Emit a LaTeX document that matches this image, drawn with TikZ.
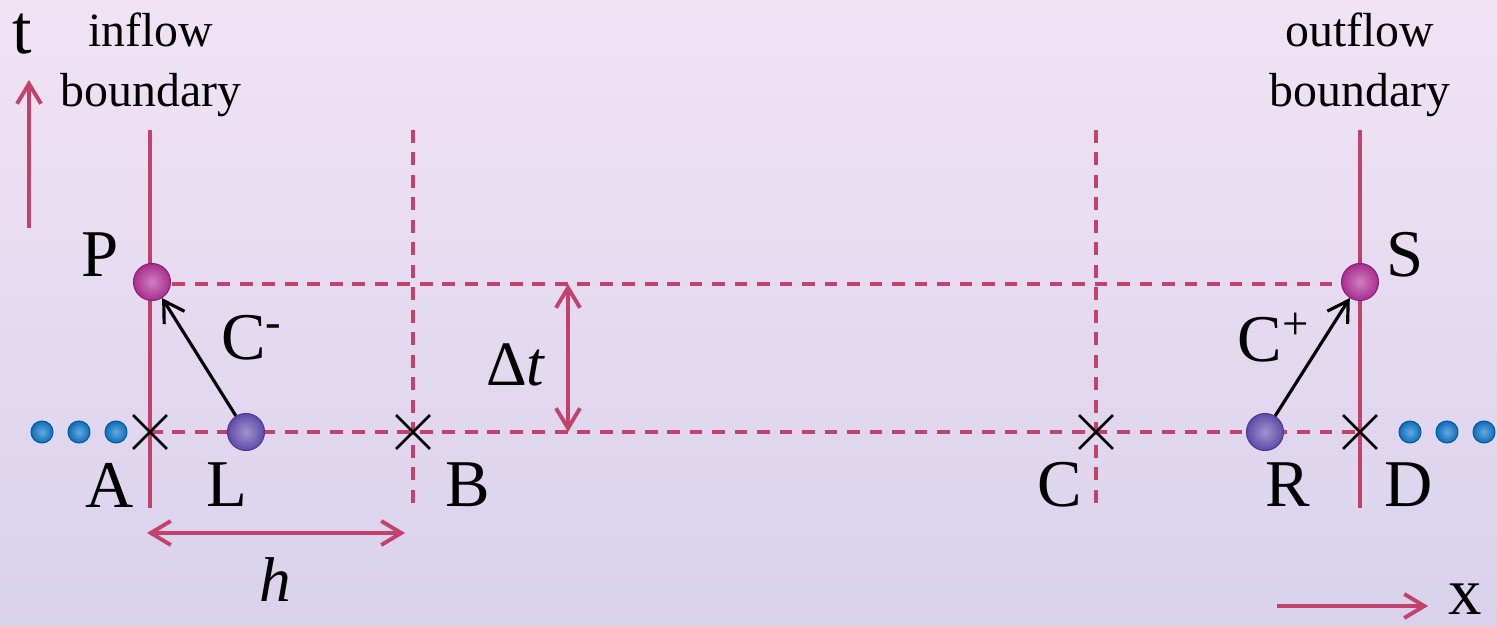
\documentclass[tikz,border=0pt]{standalone}
\usepackage{fontspec}
\setmainfont{Liberation Serif}
\usepackage{xcolor}
\usetikzlibrary{arrows.meta,calc,shapes.misc,positioning}
\definecolor{bgtop}{RGB}{241,227,244}
\definecolor{bgbot}{RGB}{217,210,236}
\definecolor{flowred}{RGB}{195,66,108}
\definecolor{magball}{RGB}{170,45,145}
\definecolor{purball}{RGB}{95,75,170}
\definecolor{bluball}{RGB}{8,110,190}
\newcommand{\lblfont}{\fontsize{19}{22}\selectfont}
\newcommand{\txtfont}{\fontsize{13.6}{17}\selectfont}
\tikzset{
  bdry/.style={flowred,line width=1.1pt},
  gridline/.style={flowred,line width=1.1pt,dash pattern=on 3.6pt off 2.8pt},
  meas/.style={flowred,line width=1.1pt,
    {Straight Barb[length=2mm,width=2.4mm]}-{Straight Barb[length=2mm,width=2.4mm]}},
  axis/.style={flowred,line width=1.1pt,-{Straight Barb[length=2mm,width=2.4mm]}},
  chr/.style={black,line width=0.9pt,-{Straight Barb[length=2mm,width=2.4mm]}},
  xmark/.style={cross out,draw=black,line width=0.8pt,inner sep=0pt,minimum size=3.1mm},
  bigball/.style={circle,inner sep=0pt,minimum size=3.7mm,shade,
    inner color=#1!60!white,outer color=#1,draw=#1!80!black,line width=0.3pt},
  dot/.style={circle,inner sep=0pt,minimum size=2.2mm,shade,
    inner color=bluball!60!white,outer color=bluball,draw=bluball!80!black,line width=0.3pt},
  lbl/.style={inner sep=0pt,font=\lblfont}
}

\begin{document}
\begin{tikzpicture}
\shade[top color=bgtop,bottom color=bgbot] (0,0) rectangle (14.97,6.26);
\useasboundingbox (0,0) rectangle (14.97,6.26);
% ends of the vertical lines
\coordinate (inT) at (1.50,4.96);
\coordinate (inB) at (1.50,1.18);
\coordinate (bT) at (4.13,4.96);
\coordinate (bB) at (4.13,1.18);
\coordinate (cT) at (10.96,4.96);
\coordinate (cB) at (10.96,1.18);
\coordinate (outT) at (13.60,4.96);
\coordinate (outB) at (13.60,1.18);
\coordinate (rowL) at (1.50,3.42);
\coordinate (rowR) at (13.60,3.42);
% grid
\draw[gridline] (bT) -- (bB);
\draw[gridline] (cT) -- (cB);
\draw[gridline] (rowL) -- (rowR);
\draw[gridline] (1.50,1.94) -- (13.60,1.94);
\draw[bdry] (inT) -- (inB);
\draw[bdry] (outT) -- (outB);
% crosses on the old time level
\node[xmark] (A) at (1.50,1.94) {};
\node[xmark] (B) at (4.13,1.94) {};
\node[xmark] (C) at (10.96,1.94) {};
\node[xmark] (D) at (13.60,1.94) {};
% particles
\node[bigball=magball] (P) at (1.52,3.44) {};
\node[bigball=magball] (S) at (13.60,3.44) {};
\node[bigball=purball] (L) at (2.46,1.94) {};
\node[bigball=purball] (R) at (12.65,1.94) {};
\node[dot] (dl1) at (0.42,1.94) {};
\node[dot] (dl2) at (0.79,1.94) {};
\node[dot] (dl3) at (1.16,1.94) {};
\node[dot] (dr1) at (14.10,1.94) {};
\node[dot] (dr2) at (14.47,1.94) {};
\node[dot] (dr3) at (14.84,1.94) {};
% characteristics
\draw[chr] (L) -- (P);
\draw[chr] (R) -- (S);
% step sizes
\coordinate (dtT) at (5.68,3.42);
\coordinate (dtB) at (5.68,1.94);
\draw[meas] (dtT) -- (dtB);
\coordinate (hL) at (1.47,0.93);
\coordinate (hR) at (4.05,0.93);
\draw[meas] (hL) -- (hR);
% axes
\coordinate (t0) at (0.29,3.98);
\coordinate (t1) at (0.29,5.46);
\draw[axis] (t0) -- (t1);
\coordinate (x0) at (12.77,0.20);
\coordinate (x1) at (14.28,0.20);
\draw[axis] (x0) -- (x1);
% labels
\node[lbl,font=\fontsize{20}{22}\selectfont] (tlab) at (0.22,5.92) {t};
\node[lbl,font=\fontsize{19}{22}\selectfont] (xlab) at (14.65,0.27) {x};
\node[inner sep=0pt,font=\txtfont,align=center,anchor=north] (inlab) at (1.51,6.14) {inflow\\boundary};
\node[inner sep=0pt,font=\txtfont,align=center,anchor=north] (outlab) at (13.60,6.14) {outflow\\boundary};
\node[lbl] (Plab) at (1.00,3.71) {P};
\node[lbl] (Slab) at (14.05,3.71) {S};
\node[lbl] (Alab) at (1.10,1.41) {A};
\node[lbl] (Llab) at (2.27,1.41) {L};
\node[lbl] (Blab) at (4.68,1.41) {B};
\node[lbl] (Clab) at (10.60,1.41) {C};
\node[lbl] (Rlab) at (12.88,1.41) {R};
\node[lbl] (Dlab) at (14.09,1.41) {D};
\node[lbl] (cmlab) at (2.52,2.88) {C\textsuperscript{-}};
\node[lbl] (cplab) at (12.74,2.88) {C\textsuperscript{+}};
\node[lbl,font=\fontsize{18}{22}\selectfont] (dtlab) at (5.16,2.61) {Δ\textit{t}};
\node[lbl,font=\fontsize{18}{22}\selectfont] (hlab) at (2.75,0.46) {\textit{h}};
\end{tikzpicture}
\end{document}
